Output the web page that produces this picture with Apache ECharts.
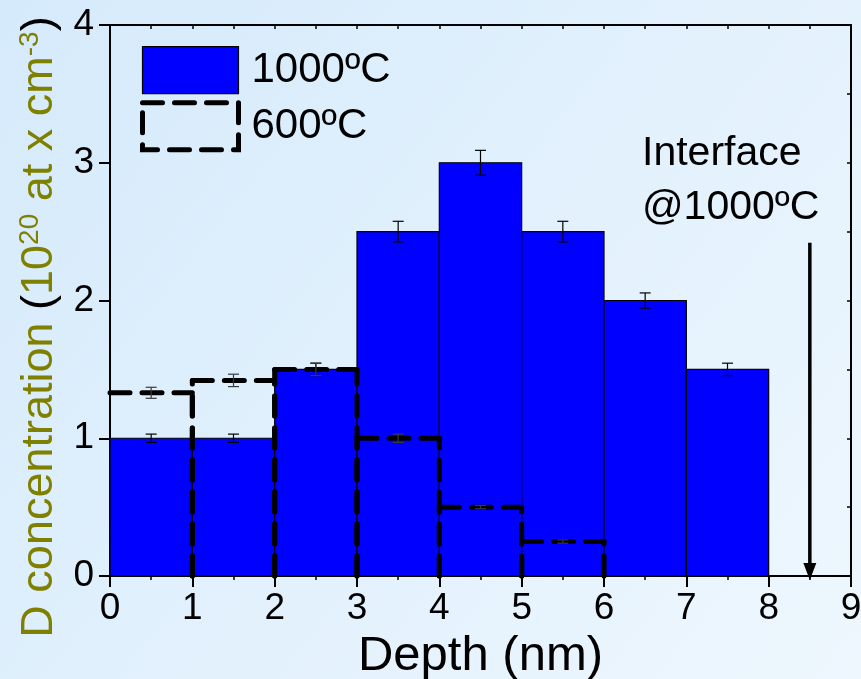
<!DOCTYPE html>
<html>
<head>
<meta charset="utf-8">
<title>D concentration vs depth</title>
<script src="https://cdn.jsdelivr.net/npm/echarts@6/dist/echarts.min.js"></script>
<style>
  html, body { margin: 0; padding: 0; }
  #chart { width: 861px; height: 679px; }
</style>
</head>
<body>
<div id="chart"></div>
<script>
// bins along depth (nm)
const binStart = [0, 1, 2, 3, 4, 5, 6, 7]
const binEnd = [1, 2, 3, 4, 5, 6, 7, 8]

// 1000ºC profile
const conc1000 = [1.0, 1.0, 1.5, 2.5, 3.0, 2.5, 2.0, 1.5]
const err1000 = [0.03, 0.03, 0.045, 0.075, 0.09, 0.075, 0.055, 0.045]

// 600ºC profile (first six bins)
const conc600 = [1.33, 1.42, 1.5, 1.0, 0.5, 0.25]
const err600 = [0.04, 0.045, 0.045, 0.03, 0.012, 0.012]

const xTicks = [0, 1, 2, 3, 4, 5, 6, 7, 8, 9]
const yTicks = [0, 1, 2, 3, 4]

// interface arrow: from (depth, conc) down to the axis
const interfaceDepth = [8.5]
const arrowTop = [2.42]

const FONT = 'Liberation Sans, Arial, sans-serif'

const bars1000 = binStart.map((s, i) => [s, binEnd[i], conc1000[i]])
const bars600 = conc600.map((v, i) => [binStart[i], binEnd[i], v])
const errs1000 = conc1000.map((v, i) => [(binStart[i] + binEnd[i]) / 2, v, err1000[i]])
const errs600 = conc600.map((v, i) => [(binStart[i] + binEnd[i]) / 2, v, err600[i]])
const arrows = interfaceDepth.map((d, i) => [d, arrowTop[i]])

const renderBar = (params, api) => {
  const p0 = api.coord([api.value(0), api.value(2)])
  const p1 = api.coord([api.value(1), 0])
  return {
    type: 'rect',
    shape: { x: p0[0], y: p0[1], width: p1[0] - p0[0], height: p1[1] - p0[1] },
    style: { fill: '#0000ff', stroke: '#000', lineWidth: 1.2 }
  }
}

// dashed outline, no bottom edge (and no left edge on the first bin)
const renderOutline = (params, api) => {
  const tl = api.coord([api.value(0), api.value(2)])
  const tr = api.coord([api.value(1), api.value(2)])
  const bl = api.coord([api.value(0), 0])
  const br = api.coord([api.value(1), 0])
  const style = { fill: null, stroke: '#000', lineWidth: 5, lineDash: [20, 12], lineCap: 'round' }
  const children = [
    { type: 'polyline', shape: { points: [tl, tr] }, style },
    { type: 'polyline', shape: { points: [br, tr] }, style }
  ]
  if (params.dataIndex > 0) {
    children.push({ type: 'polyline', shape: { points: [bl, tl] }, style })
  }
  return { type: 'group', children }
}

const makeErrRender = (color) => (params, api) => {
  const x = api.value(0), y = api.value(1), e = api.value(2)
  const hi = api.coord([x, y + e])
  const lo = api.coord([x, y - e])
  const w = 5.5
  const style = { stroke: color, lineWidth: 1.2 }
  return {
    type: 'group',
    children: [
      { type: 'line', shape: { x1: hi[0], y1: hi[1], x2: lo[0], y2: lo[1] }, style },
      { type: 'line', shape: { x1: hi[0] - w, y1: hi[1], x2: hi[0] + w, y2: hi[1] }, style },
      { type: 'line', shape: { x1: lo[0] - w, y1: lo[1], x2: lo[0] + w, y2: lo[1] }, style }
    ]
  }
}

// vertical arrow pointing down to the depth axis
const renderArrow = (params, api) => {
  const top = api.coord([api.value(0), api.value(1)])
  const base = api.coord([api.value(0), 0])
  const tipY = base[1] + 4
  const headLen = 17, headHalf = 6.5
  return {
    type: 'group',
    children: [
      { type: 'line', shape: { x1: top[0], y1: top[1], x2: top[0], y2: tipY - headLen + 2 }, style: { stroke: '#000', lineWidth: 3.5 } },
      { type: 'polygon', shape: { points: [[top[0] - headHalf, tipY - headLen], [top[0] + headHalf, tipY - headLen], [top[0], tipY]] }, style: { fill: '#000' } }
    ]
  }
}

const chart = echarts.init(document.getElementById('chart'))

const option = {
  animation: false,
  backgroundColor: new echarts.graphic.LinearGradient(0, 0, 1, 1, [
    { offset: 0, color: '#d5eafb' },
    { offset: 1, color: '#eef7fe' }
  ]),
  textStyle: { fontFamily: FONT },
  grid: { left: 110, right: 10, top: 25, bottom: 103, containLabel: false, outerBoundsMode: 'none' },
  legend: {
    orient: 'vertical',
    left: 140,
    top: 46,
    padding: 0,
    itemWidth: 96,
    itemHeight: 47,
    itemGap: 6,
    selectedMode: false,
    textStyle: { fontSize: 42, color: '#000', fontFamily: FONT, padding: [0, 0, 0, 8] },
    data: [
      { name: '1000ºC', icon: 'rect', itemStyle: { color: '#0000ff', borderColor: '#000', borderWidth: 1.2 } },
      { name: '600ºC', icon: 'rect', itemStyle: { color: 'rgba(0,0,0,0)', borderColor: '#000', borderWidth: 5, borderType: [20, 12], borderCap: 'round' } }
    ]
  },
  xAxis: [
    {
      type: 'value',
      min: xTicks[0],
      max: xTicks[xTicks.length - 1],
      interval: 1,
      name: 'Depth (nm)',
      nameLocation: 'middle',
      nameGap: 50,
      nameTextStyle: { fontSize: 49, color: '#000', fontFamily: FONT },
      axisLine: { onZero: false, lineStyle: { color: '#000', width: 2 } },
      axisTick: { length: 11, lineStyle: { width: 2 } },
      minorTick: { show: true, splitNumber: 2, length: 4, lineStyle: { color: '#000', width: 1.5 } },
      axisLabel: { fontSize: 37, color: '#000', margin: 14 },
      splitLine: { show: false }
    },
    {
      type: 'value',
      position: 'top',
      min: 0,
      max: 9,
      interval: 0.5,
      axisLine: { onZero: false, lineStyle: { color: '#000', width: 2 } },
      axisTick: { inside: true, length: 4, lineStyle: { width: 1.5 } },
      axisLabel: { show: false },
      splitLine: { show: false }
    }
  ],
  yAxis: [
    {
      type: 'value',
      min: yTicks[0],
      max: yTicks[yTicks.length - 1],
      interval: 1,
      axisLine: { onZero: false, lineStyle: { color: '#000', width: 2 } },
      axisTick: { length: 11, lineStyle: { width: 2 } },
      axisLabel: { fontSize: 37, color: '#000', margin: 16 },
      splitLine: { show: false }
    },
    {
      type: 'value',
      position: 'right',
      min: 0,
      max: 4,
      interval: 0.5,
      axisLine: { onZero: false, lineStyle: { color: '#000', width: 2 } },
      axisTick: { inside: true, length: 4, lineStyle: { width: 1.5 } },
      axisLabel: { show: false },
      splitLine: { show: false }
    }
  ],
  series: [
    {
      name: '1000ºC',
      type: 'custom',
      renderItem: renderBar,
      encode: { x: [0, 1], y: 2 },
      data: bars1000,
      z: 2
    },
    {
      name: '600ºC',
      type: 'custom',
      renderItem: renderOutline,
      encode: { x: [0, 1], y: 2 },
      data: bars600,
      z: 3
    },
    {
      name: 'err1000',
      type: 'custom',
      renderItem: makeErrRender('#000'),
      encode: { x: 0, y: 1 },
      data: errs1000,
      z: 4
    },
    {
      name: 'err600',
      type: 'custom',
      renderItem: makeErrRender('#3a3a3a'),
      encode: { x: 0, y: 1 },
      data: errs600,
      z: 4
    },
    {
      name: 'interface',
      type: 'custom',
      renderItem: renderArrow,
      encode: { x: 0, y: 1 },
      data: arrows,
      clip: false,
      silent: true,
      z: 5
    }
  ],
  graphic: [
    {
      type: 'text',
      left: 642,
      top: 127,
      style: {
        text: 'Interface\n@1000ºC',
        font: '41px ' + FONT,
        fill: '#000',
        lineHeight: 54
      }
    },
    {
      type: 'text',
      x: 40,
      y: 327,
      rotation: Math.PI / 2,
      style: {
        text: '{a|D concentration }{p|(}{a|10}{s|20}{a| at x cm}{s|-3}{p|)}',
        align: 'center',
        verticalAlign: 'middle',
        rich: {
          a: { fill: '#808000', fontSize: 45, fontFamily: FONT, lineHeight: 48 },
          p: { fill: '#000', fontSize: 45, fontFamily: FONT, lineHeight: 48 },
          s: { fill: '#808000', fontSize: 28, fontFamily: FONT, verticalAlign: 'top', lineHeight: 48 }
        }
      }
    }
  ]
}

chart.setOption(option)
window.addEventListener('resize', () => chart.resize())
</script>
</body>
</html>
